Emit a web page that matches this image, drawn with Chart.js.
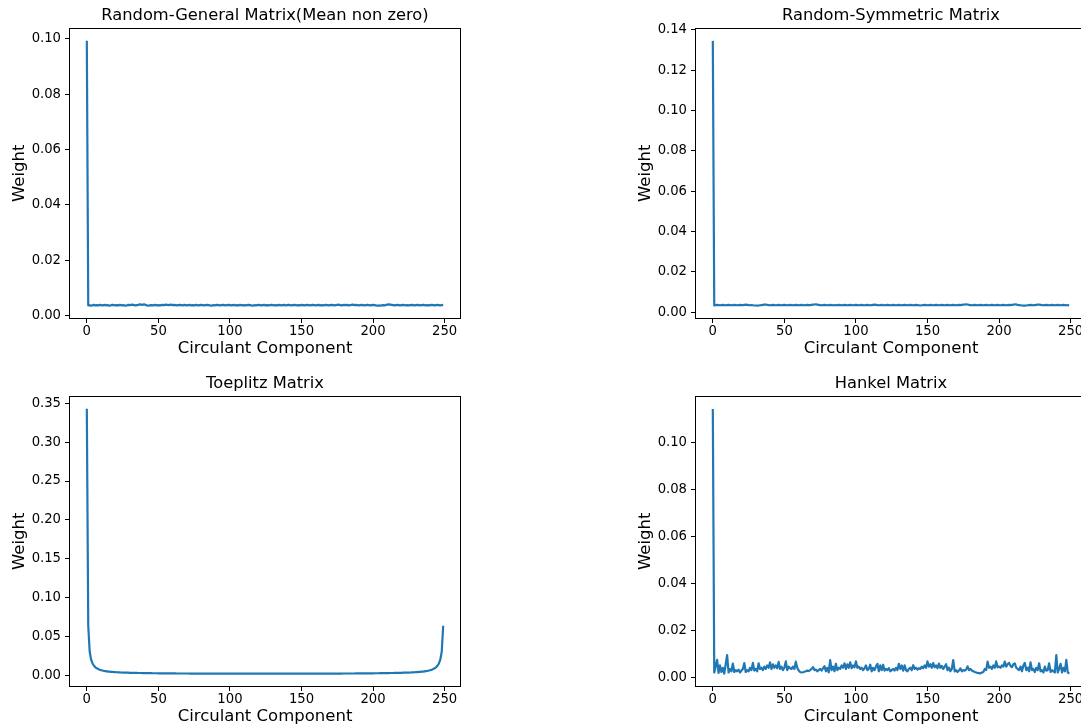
<!DOCTYPE html>
<html>
<head>
<meta charset="utf-8">
<script src="https://cdn.jsdelivr.net/npm/chart.js@4.4.0/dist/chart.umd.min.js"></script>
<style>
  html, body { margin: 0; padding: 0; background: #fff; overflow: hidden; width: 1081px; height: 728px; }
  canvas { position: absolute; }
</style>
</head>
<body>
<canvas id="general" width="470" height="359" style="left:0px;top:0px"></canvas>
<canvas id="symmetric" width="470" height="359" style="left:626px;top:0px"></canvas>
<canvas id="toeplitz" width="470" height="359" style="left:0px;top:368px"></canvas>
<canvas id="hankel" width="470" height="359" style="left:626px;top:368px"></canvas>
<script>
const xTicks = [0, 50, 100, 150, 200, 250];
const yTicksGeneral = [0, 0.02, 0.04, 0.06, 0.08, 0.10];
const yTicksSymmetric = [0, 0.02, 0.04, 0.06, 0.08, 0.10, 0.12, 0.14];
const yTicksToeplitz = [0, 0.05, 0.10, 0.15, 0.20, 0.25, 0.30, 0.35];
const yTicksHankel = [0, 0.02, 0.04, 0.06, 0.08, 0.10];

const weightsGeneral = [0.0993,
  0.0036,0.0037,0.0035,0.0037,0.0038,0.0036,0.0037,0.0036,0.0038,0.0037,
  0.0036,0.0037,0.0038,0.0036,0.0037,0.0035,0.0037,0.0038,0.0037,0.0036,
  0.0037,0.0036,0.0038,0.0037,0.0036,0.0037,0.0035,0.0036,0.0038,0.0037,
  0.0038,0.0039,0.0037,0.0036,0.0037,0.0038,0.0040,0.0039,0.0038,0.0040,
  0.0038,0.0036,0.0035,0.0036,0.0037,0.0036,0.0037,0.0038,0.0036,0.0037,
  0.0036,0.0037,0.0038,0.0037,0.0039,0.0038,0.0037,0.0038,0.0039,0.0037,
  0.0038,0.0037,0.0036,0.0037,0.0038,0.0037,0.0036,0.0038,0.0037,0.0036,
  0.0037,0.0038,0.0036,0.0037,0.0036,0.0038,0.0037,0.0036,0.0037,0.0038,
  0.0037,0.0036,0.0037,0.0038,0.0037,0.0036,0.0035,0.0037,0.0036,0.0037,
  0.0038,0.0037,0.0036,0.0037,0.0038,0.0037,0.0036,0.0037,0.0038,0.0037,
  0.0036,0.0037,0.0038,0.0036,0.0037,0.0036,0.0038,0.0037,0.0036,0.0037,
  0.0036,0.0037,0.0038,0.0037,0.0036,0.0035,0.0037,0.0036,0.0037,0.0038,
  0.0037,0.0036,0.0037,0.0038,0.0036,0.0037,0.0036,0.0037,0.0038,0.0037,
  0.0036,0.0037,0.0036,0.0038,0.0037,0.0036,0.0037,0.0038,0.0036,0.0037,
  0.0038,0.0037,0.0036,0.0037,0.0038,0.0037,0.0036,0.0037,0.0036,0.0038,
  0.0037,0.0036,0.0037,0.0038,0.0037,0.0036,0.0037,0.0038,0.0037,0.0036,
  0.0037,0.0038,0.0036,0.0037,0.0036,0.0037,0.0038,0.0037,0.0036,0.0037,
  0.0038,0.0037,0.0036,0.0037,0.0038,0.0039,0.0037,0.0036,0.0037,0.0038,
  0.0037,0.0038,0.0036,0.0037,0.0038,0.0039,0.0037,0.0038,0.0037,0.0036,
  0.0037,0.0038,0.0037,0.0036,0.0037,0.0038,0.0037,0.0036,0.0037,0.0038,
  0.0037,0.0036,0.0035,0.0036,0.0035,0.0036,0.0037,0.0036,0.0038,0.0039,
  0.0040,0.0039,0.0038,0.0037,0.0036,0.0037,0.0038,0.0037,0.0036,0.0037,
  0.0038,0.0037,0.0036,0.0037,0.0036,0.0037,0.0038,0.0037,0.0036,0.0037,
  0.0038,0.0037,0.0036,0.0037,0.0038,0.0037,0.0036,0.0037,0.0036,0.0037,
  0.0038,0.0037,0.0036,0.0037,0.0038,0.0037,0.0036,0.0037,0.0038];

const weightsSymmetric = [0.1345,
  0.0034,0.0036,0.0037,0.0036,0.0035,0.0036,0.0037,0.0036,0.0035,0.0036,
  0.0037,0.0036,0.0035,0.0036,0.0037,0.0036,0.0035,0.0036,0.0037,0.0036,
  0.0036,0.0037,0.0038,0.0037,0.0036,0.0035,0.0036,0.0035,0.0034,0.0034,
  0.0033,0.0034,0.0035,0.0036,0.0037,0.0038,0.0039,0.0037,0.0036,0.0035,
  0.0036,0.0037,0.0036,0.0035,0.0036,0.0037,0.0036,0.0035,0.0036,0.0037,
  0.0036,0.0035,0.0036,0.0037,0.0036,0.0035,0.0036,0.0037,0.0036,0.0035,
  0.0036,0.0037,0.0036,0.0035,0.0036,0.0037,0.0036,0.0036,0.0037,0.0038,
  0.0039,0.0040,0.0038,0.0037,0.0036,0.0035,0.0036,0.0037,0.0036,0.0035,
  0.0036,0.0037,0.0036,0.0035,0.0036,0.0035,0.0036,0.0037,0.0036,0.0035,
  0.0036,0.0037,0.0036,0.0035,0.0036,0.0037,0.0036,0.0035,0.0036,0.0037,
  0.0036,0.0035,0.0036,0.0037,0.0036,0.0035,0.0036,0.0037,0.0036,0.0035,
  0.0036,0.0037,0.0038,0.0037,0.0036,0.0035,0.0036,0.0037,0.0036,0.0035,
  0.0036,0.0037,0.0036,0.0035,0.0036,0.0037,0.0036,0.0035,0.0036,0.0037,
  0.0036,0.0035,0.0036,0.0037,0.0036,0.0035,0.0036,0.0037,0.0036,0.0035,
  0.0036,0.0037,0.0036,0.0035,0.0034,0.0035,0.0036,0.0037,0.0036,0.0035,
  0.0036,0.0037,0.0036,0.0035,0.0036,0.0037,0.0036,0.0035,0.0036,0.0037,
  0.0036,0.0035,0.0036,0.0037,0.0036,0.0035,0.0036,0.0037,0.0036,0.0035,
  0.0036,0.0037,0.0036,0.0037,0.0038,0.0039,0.0040,0.0039,0.0037,0.0036,
  0.0035,0.0036,0.0037,0.0036,0.0035,0.0036,0.0037,0.0036,0.0035,0.0036,
  0.0037,0.0036,0.0035,0.0036,0.0037,0.0036,0.0035,0.0036,0.0037,0.0036,
  0.0035,0.0036,0.0037,0.0036,0.0035,0.0036,0.0037,0.0036,0.0037,0.0038,
  0.0039,0.0039,0.0037,0.0036,0.0035,0.0034,0.0033,0.0033,0.0034,0.0035,
  0.0036,0.0037,0.0036,0.0035,0.0036,0.0037,0.0038,0.0038,0.0037,0.0036,
  0.0035,0.0036,0.0037,0.0036,0.0035,0.0036,0.0037,0.0036,0.0035,0.0036,
  0.0037,0.0036,0.0035,0.0036,0.0037,0.0036,0.0035,0.0036,0.0034];

const weightsToeplitz = [0.343,
  0.0636,0.0305,0.0201,0.0151,0.0122,0.0102,0.0089,0.0079,0.0071,0.0065,
  0.0060,0.0056,0.0053,0.0050,0.0047,0.0045,0.0043,0.0042,0.0040,0.0039,
  0.0038,0.0037,0.0036,0.0035,0.0034,0.0034,0.0033,0.0032,0.0032,0.0031,
  0.0031,0.0030,0.0030,0.0029,0.0029,0.0028,0.0028,0.0028,0.0027,0.0027,
  0.0027,0.0026,0.0026,0.0026,0.0026,0.0025,0.0025,0.0025,0.0025,0.0024,
  0.0024,0.0024,0.0024,0.0024,0.0024,0.0023,0.0023,0.0023,0.0023,0.0023,
  0.0023,0.0023,0.0022,0.0022,0.0022,0.0022,0.0022,0.0022,0.0022,0.0022,
  0.0022,0.0021,0.0021,0.0021,0.0021,0.0021,0.0021,0.0021,0.0021,0.0021,
  0.0021,0.0020,0.0020,0.0020,0.0020,0.0020,0.0020,0.0020,0.0020,0.0020,
  0.0020,0.0020,0.0020,0.0020,0.0020,0.0020,0.0020,0.0020,0.0020,0.0020,
  0.0020,0.0020,0.0020,0.0020,0.0020,0.0019,0.0019,0.0019,0.0019,0.0019,
  0.0019,0.0019,0.0019,0.0019,0.0019,0.0019,0.0019,0.0019,0.0019,0.0019,
  0.0019,0.0019,0.0019,0.0019,
  0.0019,
  0.0019,0.0019,0.0019,0.0019,
  0.0019,0.0019,0.0019,0.0019,0.0019,0.0019,0.0019,0.0019,0.0019,0.0019,
  0.0019,0.0019,0.0019,0.0019,0.0019,0.0020,0.0020,0.0020,0.0020,0.0020,
  0.0020,0.0020,0.0020,0.0020,0.0020,0.0020,0.0020,0.0020,0.0020,0.0020,
  0.0020,0.0020,0.0020,0.0020,0.0020,0.0020,0.0020,0.0020,0.0020,0.0021,
  0.0021,0.0021,0.0021,0.0021,0.0021,0.0021,0.0021,0.0021,0.0021,0.0022,
  0.0022,0.0022,0.0022,0.0022,0.0022,0.0022,0.0022,0.0022,0.0023,0.0023,
  0.0023,0.0023,0.0023,0.0023,0.0023,0.0024,0.0024,0.0024,0.0024,0.0024,
  0.0024,0.0025,0.0025,0.0025,0.0025,0.0026,0.0026,0.0026,0.0026,0.0027,
  0.0027,0.0027,0.0028,0.0028,0.0028,0.0029,0.0029,0.0030,0.0030,0.0031,
  0.0031,0.0032,0.0032,0.0033,0.0034,0.0034,0.0035,0.0036,0.0037,0.0038,
  0.0039,0.0040,0.0042,0.0043,0.0045,0.0047,0.0050,0.0053,0.0056,0.0060,
  0.0065,0.0071,0.0079,0.0089,0.0102,0.0122,0.0151,0.0201,0.0305,0.0636];

const weightsHankel = [0.1144,
  0.0020,0.0045,0.0074,0.0018,0.0050,0.0022,0.0040,0.0015,0.0055,0.0094,
  0.0020,0.0035,0.0025,0.0058,0.0022,0.0030,0.0025,0.0032,0.0020,0.0028,
  0.0035,0.0060,0.0022,0.0030,0.0025,0.0040,0.0030,0.0061,0.0028,0.0035,
  0.0025,0.0059,0.0035,0.0040,0.0030,0.0045,0.0035,0.0050,0.0040,0.0063,
  0.0035,0.0055,0.0040,0.0050,0.0038,0.0065,0.0035,0.0045,0.0030,0.0040,
  0.0067,0.0030,0.0045,0.0038,0.0035,0.0045,0.0035,0.0066,0.0040,0.0028,
  0.0022,0.0020,0.0021,0.0023,0.0025,0.0028,0.0026,0.0030,0.0035,0.0043,
  0.0030,0.0032,0.0025,0.0030,0.0035,0.0028,0.0038,0.0047,0.0025,0.0040,
  0.0020,0.0073,0.0030,0.0045,0.0025,0.0057,0.0030,0.0040,0.0035,0.0050,
  0.0040,0.0059,0.0035,0.0055,0.0040,0.0063,0.0038,0.0050,0.0042,0.0067,
  0.0040,0.0045,0.0035,0.0040,0.0030,0.0038,0.0050,0.0030,0.0035,0.0053,
  0.0025,0.0040,0.0030,0.0045,0.0057,0.0025,0.0050,0.0030,0.0053,0.0028,
  0.0035,0.0030,0.0038,0.0025,0.0030,0.0035,0.0028,0.0040,0.0030,0.0057,
  0.0035,0.0050,0.0028,0.0050,0.0030,0.0025,0.0035,0.0040,0.0030,0.0051,
  0.0035,0.0040,0.0032,0.0038,0.0035,0.0045,0.0038,0.0050,0.0040,0.0067,
  0.0045,0.0055,0.0040,0.0060,0.0042,0.0050,0.0038,0.0058,0.0040,0.0048,
  0.0035,0.0045,0.0055,0.0030,0.0040,0.0025,0.0035,0.0073,0.0025,0.0030,
  0.0022,0.0028,0.0037,0.0025,0.0030,0.0028,0.0032,0.0046,0.0030,0.0035,
  0.0028,0.0025,0.0022,0.0020,0.0018,0.0017,0.0016,0.0020,0.0022,0.0035,
  0.0030,0.0066,0.0040,0.0045,0.0035,0.0050,0.0040,0.0067,0.0042,0.0045,
  0.0040,0.0050,0.0045,0.0066,0.0045,0.0055,0.0061,0.0048,0.0042,0.0055,
  0.0059,0.0040,0.0035,0.0030,0.0045,0.0025,0.0050,0.0061,0.0030,0.0040,
  0.0025,0.0063,0.0030,0.0035,0.0022,0.0040,0.0030,0.0059,0.0025,0.0030,
  0.0020,0.0045,0.0028,0.0030,0.0059,0.0022,0.0030,0.0025,0.0020,0.0094,
  0.0020,0.0035,0.0057,0.0020,0.0040,0.0025,0.0074,0.0020,0.0015];

Chart.defaults.font.family = "'DejaVu Sans', sans-serif";
Chart.defaults.color = '#000';

// matplotlib style box round the axes
const frame = {
  id: 'frame',
  afterDatasetsDraw(chart) {
    const {ctx, chartArea} = chart;
    const l = Math.round(chartArea.left) + 0.5;
    const t = Math.round(chartArea.top) + 0.5;
    const r = Math.round(chartArea.right) - 0.5;
    const b = Math.round(chartArea.bottom) - 0.5;
    ctx.save();
    ctx.strokeStyle = '#000';
    ctx.lineWidth = 1;
    ctx.strokeRect(l, t, r - l, b - t);
    ctx.restore();
  }
};

const makeChart = (id, title, weights, yTicks, yMin, yMax) => {
  const points = weights.map((w, i) => ({x: i, y: w}));
  return new Chart(document.getElementById(id), {
    type: 'line',
    data: {
      datasets: [{
        data: points,
        borderColor: '#1f77b4',
        borderWidth: 2.2,
        borderJoinStyle: 'round',
        pointRadius: 0,
        tension: 0,
        fill: false
      }]
    },
    options: {
      responsive: false,
      animation: false,
      devicePixelRatio: 1,
      layout: {padding: {left: 0, right: 9, top: 0, bottom: 0}},
      plugins: {
        legend: {display: false},
        tooltip: {enabled: false},
        title: {
          display: true,
          text: title,
          fullSize: false,
          font: {size: 16.3, weight: 'normal'},
          padding: {top: 6, bottom: 2}
        }
      },
      scales: {
        x: {
          type: 'linear',
          min: -12.45,
          max: 261.45,
          afterBuildTicks: (scale) => { scale.ticks = xTicks.map(v => ({value: v})); },
          afterFit: (scale) => { scale.height = 40; },
          ticks: {font: {size: 13.2}, padding: 1, autoSkip: false, maxRotation: 0},
          grid: {drawOnChartArea: false, drawTicks: true, tickLength: 4, tickColor: '#000'},
          border: {display: false},
          title: {display: true, text: 'Circulant Component', font: {size: 16.5}, padding: {top: 0, bottom: 0}}
        },
        y: {
          type: 'linear',
          min: yMin,
          max: yMax,
          afterBuildTicks: (scale) => { scale.ticks = yTicks.map(v => ({value: v})); },
          afterFit: (scale) => { scale.width = 69; },
          ticks: {font: {size: 13.2}, padding: 4, autoSkip: false, callback: (v) => v.toFixed(2)},
          grid: {drawOnChartArea: false, drawTicks: true, tickLength: 4, tickColor: '#000'},
          border: {display: false},
          title: {display: true, text: 'Weight', font: {size: 16.5}, padding: {top: 9.5, bottom: 0}}
        }
      }
    },
    plugins: [frame]
  });
};

makeChart('general', 'Random-General Matrix(Mean non zero)', weightsGeneral, yTicksGeneral, -0.0013, 0.1041);
makeChart('symmetric', 'Random-Symmetric Matrix', weightsSymmetric, yTicksSymmetric, -0.0033, 0.1411);
makeChart('toeplitz', 'Toeplitz Matrix', weightsToeplitz, yTicksToeplitz, -0.0152, 0.3601);
makeChart('hankel', 'Hankel Matrix', weightsHankel, yTicksHankel, -0.0042, 0.1201);
</script>
</body>
</html>
